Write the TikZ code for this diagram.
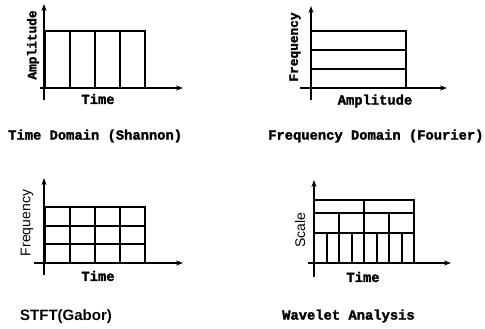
\documentclass[tikz,border=0pt]{standalone}
\usepackage{fontspec}
\setmainfont{Liberation Sans}
\newfontfamily\dotfont{Liberation Mono}[FakeBold=2]
\usetikzlibrary{arrows.meta}
\tikzset{
  axis/.style={line width=1.5pt,-{Stealth[length=7pt,width=5pt]}},
  cell/.style={line width=1.5pt},
  lbl/.style={font=\dotfont\bfseries\fontsize{13.8}{14}\selectfont,inner sep=0pt},
  vlbl/.style={font=\dotfont\bfseries\fontsize{12.8}{13}\selectfont,inner sep=0pt,rotate=90},
  slbl/.style={font=\fontsize{14}{15}\selectfont,inner sep=0pt},
}
\begin{document}
\begin{tikzpicture}[x=1pt,y=-1pt]
\useasboundingbox (0,0) rectangle (485,329);
% ---- Panel 1: Time domain
\coordinate (a1s) at (44,100); \coordinate (a1e) at (44,4);
\coordinate (b1s) at (40,88); \coordinate (b1e) at (183,88);
\draw[axis] (a1s) -- (a1e);
\draw[axis] (b1s) -- (b1e);
\draw[cell] (45,31) rectangle (145,88);
\foreach \x in {70,95,120} \draw[cell] (\x,31) -- (\x,88);
\node[lbl] (t1) at (98,99) {Time};
\node[vlbl] (y1) at (33,45) {Amplitude};
\node[lbl,anchor=west] (c1) at (8,136) {Time Domain (Shannon)};
% ---- Panel 2: Frequency domain
\coordinate (a2s) at (311,100); \coordinate (a2e) at (311,6);
\coordinate (b2s) at (300,88); \coordinate (b2e) at (447,88);
\draw[axis] (a2s) -- (a2e);
\draw[axis] (b2s) -- (b2e);
\draw[cell] (311,31) rectangle (406,88);
\foreach \y in {50,69} \draw[cell] (311,\y) -- (406,\y);
\node[lbl] (t2) at (375,101) {Amplitude};
\node[vlbl] (y2) at (295,47) {Frequency};
\node[lbl,anchor=west] (c2) at (268,136) {Frequency Domain (Fourier)};
% ---- Panel 3: STFT
\coordinate (a3s) at (44,275); \coordinate (a3e) at (44,178);
\coordinate (b3s) at (34,263); \coordinate (b3e) at (183,263);
\draw[axis] (a3s) -- (a3e);
\draw[axis] (b3s) -- (b3e);
\draw[cell] (45,207) rectangle (145,263);
\foreach \x in {70,95,120} \draw[cell] (\x,207) -- (\x,263);
\foreach \y in {226,244} \draw[cell] (45,\y) -- (145,\y);
\node[lbl] (t3) at (98,276) {Time};
\node[slbl,rotate=90] (y3) at (27,223) {Frequency};
\node[slbl,font=\bfseries\fontsize{15}{16}\selectfont,anchor=west] (c3) at (20,317) {STFT(Gabor)};
% ---- Panel 4: Wavelet
\coordinate (a4s) at (314,277); \coordinate (a4e) at (314,180);
\coordinate (b4s) at (308,263); \coordinate (b4e) at (451,263);
\draw[axis] (a4s) -- (a4e);
\draw[axis] (b4s) -- (b4e);
\draw[cell] (314,200) rectangle (414,263);
\foreach \y in {213,233} \draw[cell] (314,\y) -- (414,\y);
\draw[cell] (364,200) -- (364,263);
\foreach \x in {339,389} \draw[cell] (\x,213) -- (\x,263);
\foreach \x in {327,352,377,402} \draw[cell] (\x,233) -- (\x,263);
\node[lbl] (t4) at (363,277) {Time};
\node[slbl,rotate=90] (y4) at (300,230) {Scale};
\node[lbl,anchor=west] (c4) at (282,316) {Wavelet Analysis};
\end{tikzpicture}
\end{document}
